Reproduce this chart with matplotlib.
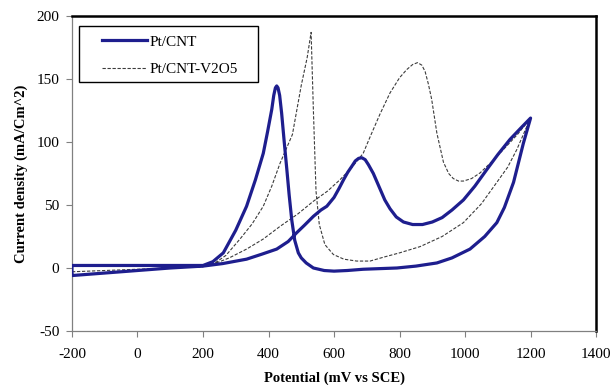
import matplotlib
matplotlib.use('Agg')
import matplotlib.pyplot as plt
from matplotlib.patches import Rectangle

matplotlib.rcParams.update({'font.family': 'Liberation Serif', 'font.size': 11,
                            'axes.unicode_minus': False})

# Pt/CNT, forward scan (-200 -> 1200 mV)
pt_fwd_e = [-200, -100, 0, 100, 200, 260, 333, 380, 425, 460, 486, 510, 537, 560, 578,
            600, 615, 629, 642, 655, 665, 675, 685, 695, 705, 720, 740, 755, 771, 790,
            812, 840, 870, 900, 930, 960, 995, 1030, 1066, 1100, 1137, 1170, 1200]
pt_fwd_j = [-6, -4, -2, 0, 1.5, 3.5, 7, 11, 15, 21, 28, 34, 41, 46, 49,
            56, 63, 70, 76, 81, 85, 87, 87.5, 86, 82, 75, 63, 54, 47, 40.5,
            36.5, 34.5, 34.5, 36.5, 40, 46, 54, 65, 78, 90, 102, 111, 119]
# Pt/CNT, reverse scan (1200 -> -200 mV)
pt_rev_e = [1200, 1178, 1148, 1120, 1097, 1060, 1015, 960, 914, 850, 792, 740, 689, 640,
            600, 570, 537, 515, 500, 491, 480, 471, 463, 456, 448, 440, 434, 429, 425,
            421, 416, 410, 397, 384, 360, 333, 300, 262, 230, 200, 100, 0, -100, -200,
            -200]
pt_rev_j = [119, 99, 68, 48, 36, 25, 15, 8, 4, 1.5, 0, -0.5, -1, -2,
            -2.5, -2, 0, 4, 8, 12, 22, 38, 58, 78, 100, 123, 137, 143, 144.5,
            143, 137, 126, 108, 91, 70, 49, 30, 12, 5, 2, 2, 2, 2, 2,
            -5]

# Pt/CNT-V2O5, forward scan
v_fwd_e = [-200, 0, 100, 200, 231, 280, 333, 384, 435, 490, 537, 580, 618, 655, 689,
           710, 740, 771, 800, 822, 840, 855, 868, 878, 888, 898, 914, 934, 950, 964,
           980, 995, 1020, 1046, 1080, 1117, 1160, 1200]
v_fwd_j = [-3, -1, 0, 1, 3, 8, 15, 23, 33, 43, 53, 61, 70, 80, 91,
           104, 122, 139, 151, 157.5, 161.5, 163, 161, 156, 146, 134, 107, 84, 75, 71,
           69, 69, 71, 75.5, 84, 94, 106, 119]
# Pt/CNT-V2O5, reverse scan
v_rev_e = [1200, 1188, 1158, 1130, 1097, 1050, 995, 930, 863, 800, 750, 710, 669, 630,
           598, 572, 555, 545, 537, 530, 518, 500, 473, 435, 410, 384, 350, 313, 270,
           231, 200, 100, 0, -200]
v_rev_j = [119, 112, 94, 80, 68, 51, 36, 25, 17, 12, 8.5, 5.5, 5.5, 7,
           10.7, 18.6, 34.5, 61, 125, 187, 167, 145, 106, 83, 65, 49, 35, 23, 10,
           3, 1.5, 1.5, 1.5, 1.5]

labels = ['Pt/CNT', 'Pt/CNT-V2O5']
blue = '#1e1e8e'
grey = '#3c3c3c'

fig = plt.figure(figsize=(6.12, 3.85), dpi=100)
ax = fig.add_axes([0.1176, 0.1403, 0.8564, 0.8181])

l2, = ax.plot(v_fwd_e + v_rev_e, v_fwd_j + v_rev_j, color=grey, lw=0.8,
              dashes=(3, 1.5), zorder=2)
l1, = ax.plot(pt_fwd_e + pt_rev_e, pt_fwd_j + pt_rev_j, color=blue, lw=2.3,
              zorder=3, solid_joinstyle='round')

ax.set_xlim(-200, 1400)
ax.set_ylim(-50, 200)
ax.set_xticks(range(-200, 1401, 200))
ax.set_yticks(range(-50, 201, 50))

for s in ['left', 'bottom']:
    ax.spines[s].set_color('#808080')
    ax.spines[s].set_linewidth(0.9)
for s in ['top', 'right']:
    ax.spines[s].set_color('black')
    ax.spines[s].set_linewidth(1.8)
ax.tick_params(direction='out', length=4, width=0.8, color='#808080',
               labelsize=11)
ax.tick_params(axis='x', pad=8)
ax.tick_params(axis='y', pad=5)

ax.set_xlabel('Potential (mV vs SCE)', fontweight='bold', fontsize=10.5, labelpad=8)
ax.set_ylabel('Current density (mA/Cm^2)', fontweight='bold', fontsize=10.5, labelpad=6)

# legend: box drawn separately so the inner padding matches the original
ax.add_patch(Rectangle((0.0134, 0.790), 0.3416, 0.178, transform=ax.transAxes,
                       facecolor='white', edgecolor='black', lw=1.0, zorder=4))
leg = ax.legend([l1, l2], labels, loc='upper left', bbox_to_anchor=(0.057, 0.940),
                borderaxespad=0, frameon=False, handlelength=2.95,
                handletextpad=0.15, labelspacing=0.9, borderpad=0, fontsize=11)
leg.set_zorder(5)

fig.savefig('out.png', dpi=100)
